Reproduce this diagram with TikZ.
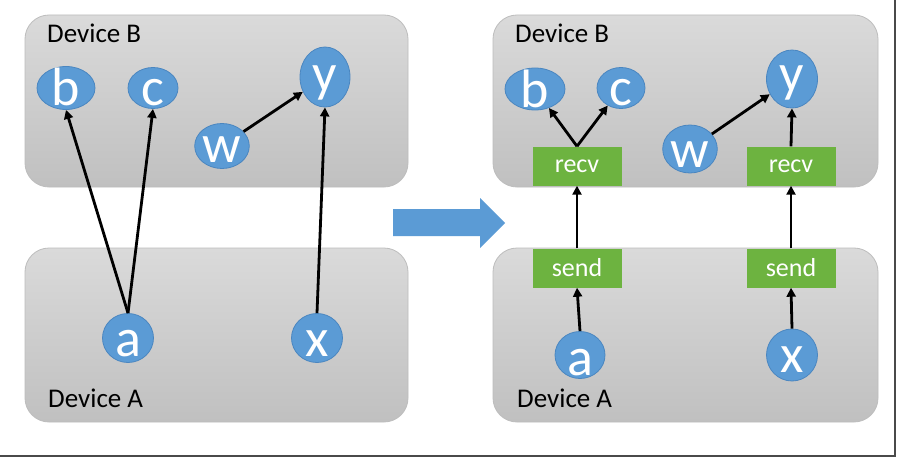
\documentclass[tikz,border=0pt]{standalone}
\usepackage{fontspec}
\setmainfont{Carlito}
\usetikzlibrary{shapes.geometric,arrows.meta}
\definecolor{nodeblue}{HTML}{5B9BD5}
\definecolor{nodeedge}{HTML}{4A86C0}
\definecolor{opgreen}{HTML}{6DB340}
\definecolor{boxedge}{HTML}{BDBDBD}
\definecolor{boxtop}{HTML}{DADADA}
\definecolor{boxbot}{HTML}{C0C0C0}
\definecolor{framecol}{HTML}{4A4A4A}
\newcommand{\lowtxt}[2]{\smash{\raisebox{-#1}{#2}}}
\tikzset{
  devbox/.style={draw=boxedge, line width=0.8pt, rounded corners=24pt,
                 top color=boxtop, bottom color=boxbot},
  tensor/.style={ellipse, fill=nodeblue, draw=nodeedge, line width=0.8pt,
                 inner sep=0pt, text=white, font=\fontsize{54}{54}\selectfont},
  opbox/.style={rectangle, fill=opgreen, text=white, inner sep=0pt,
                minimum width=89pt, minimum height=39pt,
                font=\fontsize{26}{26}\selectfont},
  devlabel/.style={anchor=base west, inner sep=0pt, font=\fontsize{27}{27}\selectfont},
  edge/.style={line width=2.8pt, -{Triangle[length=9pt,width=9pt]}},
}
\begin{document}
\begin{tikzpicture}[x=1pt,y=-1pt]
\useasboundingbox (0,0) rectangle (900,460);
\fill[white] (0,0) rectangle (900,460);
% frame lines
\draw[framecol, line width=2pt] (895,0) -- (895,456) -- (0,456);

% ---------- left half ----------
\path[devbox] (25,15) rectangle (408,187);
\path[devbox] (25,248) rectangle (408,422);
\node[devlabel] (lDB) at (47,43) {Device B};
\node[devlabel] (lDA) at (48,407) {Device A};

\node[tensor, minimum width=58pt, minimum height=43pt] (lb) at (66,88) {\lowtxt{18pt}{b}};
\node[tensor, minimum width=50pt, minimum height=41pt] (lc) at (153,88) {\lowtxt{18pt}{c}};
\node[tensor, minimum width=51pt, minimum height=45pt] (lw) at (222,146) {\lowtxt{17pt}{w}};
\node[tensor, minimum width=50pt, minimum height=60pt] (ly) at (325,77) {\lowtxt{15pt}{y}};
\node[tensor, minimum width=51pt, minimum height=49pt] (la) at (128,338) {\lowtxt{18pt}{a}};
\node[tensor, minimum width=51pt, minimum height=49pt] (lx) at (317,338) {\lowtxt{18pt}{x}};

\draw[edge] (la.north) -- (lb.south);
\draw[edge] (la.north) -- (lc.south);
\draw[edge] (lx.north) -- (ly.south);
\draw[edge] (lw) -- (ly);

% ---------- big arrow ----------
\fill[nodeblue] (393,209) -- (480,209) -- (480,198) -- (505,223) -- (480,248)
  -- (480,236) -- (393,236) -- cycle;

% ---------- right half ----------
\path[devbox] (493,15) rectangle (878,187);
\path[devbox] (493,248) rectangle (878,422);
\node[devlabel] (rDB) at (515,43) {Device B};
\node[devlabel] (rDA) at (517,407) {Device A};

\node[tensor, minimum width=60pt, minimum height=42pt] (rb) at (535,89) {\lowtxt{18pt}{b}};
\node[tensor, minimum width=48pt, minimum height=41pt] (rc) at (621,88) {\lowtxt{18pt}{c}};
\node[tensor, minimum width=50pt, minimum height=48pt] (rw) at (690,149) {\lowtxt{18pt}{w}};
\node[tensor, minimum width=51pt, minimum height=58pt] (ry) at (792,79) {\lowtxt{13pt}{y}};
\node[tensor, minimum width=50pt, minimum height=47pt] (ra) at (580,355) {\lowtxt{20pt}{a}};
\node[tensor, minimum width=51pt, minimum height=52pt] (rx) at (792,355) {\lowtxt{17pt}{x}};

\node[opbox] (recvL) at (577,166) {recv};
\node[opbox] (recvR) at (791,166) {recv};
\node[opbox] (sendL) at (577,268) {send};
\node[opbox] (sendR) at (791,268) {send};

\draw[edge] (recvL.north) -- (rb);
\draw[edge] (recvL.north) -- (rc);
\draw[edge] (recvR.north) -- (ry.south);
\draw[edge] (rw) -- (ry);
\draw[edge] (sendL.north) -- (recvL.south);
\draw[edge] (sendR.north) -- (recvR.south);
\draw[edge] (ra.north) -- (sendL.south);
\draw[edge] (rx.north) -- (sendR.south);
\end{tikzpicture}
\end{document}
